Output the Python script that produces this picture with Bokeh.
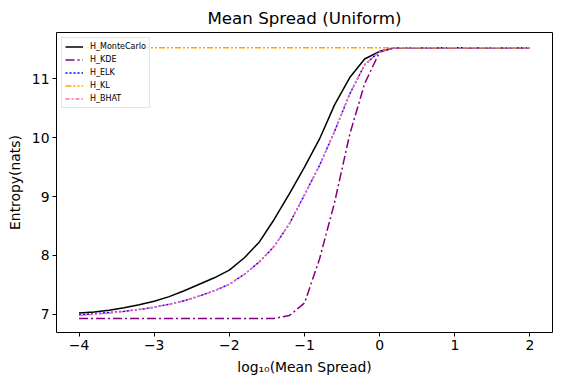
from bokeh.plotting import figure
from bokeh.models import FixedTicker, Range1d, Legend, LegendItem
from bokeh.embed import file_html
from bokeh.resources import INLINE

# log10(mean spread) grid
x = [-4.0, -3.8, -3.6, -3.4, -3.2, -3.0, -2.8, -2.6, -2.4, -2.2, -2.0,
     -1.8, -1.6, -1.4, -1.2, -1.0, -0.8, -0.6, -0.4, -0.2, 0.0,
     0.2, 0.4, 0.6, 0.8, 1.0, 1.2, 1.4, 1.6, 1.8, 2.0]

h_montecarlo = [7.02, 7.04, 7.07, 7.11, 7.16, 7.22, 7.30, 7.40, 7.51, 7.62, 7.75,
                7.96, 8.23, 8.62, 9.05, 9.50, 9.98, 10.56, 11.02, 11.34, 11.47,
                11.53, 11.53, 11.53, 11.53, 11.53, 11.53, 11.53, 11.53, 11.53, 11.53]

h_kde = [6.93, 6.93, 6.93, 6.93, 6.93, 6.93, 6.93, 6.93, 6.93, 6.93, 6.93,
         6.93, 6.93, 6.93, 6.98, 7.19, 7.94, 8.90, 10.05, 10.92, 11.46,
         11.53, 11.53, 11.53, 11.53, 11.53, 11.53, 11.53, 11.53, 11.53, 11.53]

h_elk = [6.99, 7.01, 7.03, 7.05, 7.08, 7.12, 7.17, 7.23, 7.31, 7.40, 7.51,
         7.68, 7.89, 8.16, 8.54, 9.03, 9.53, 10.11, 10.74, 11.24, 11.47,
         11.53, 11.53, 11.53, 11.53, 11.53, 11.53, 11.53, 11.53, 11.53, 11.53]

h_kl = [11.53] * 31

h_bhat = [6.98, 7.00, 7.02, 7.05, 7.08, 7.12, 7.17, 7.23, 7.31, 7.40, 7.51,
          7.68, 7.89, 8.16, 8.54, 9.03, 9.53, 10.11, 10.74, 11.24, 11.47,
          11.53, 11.53, 11.53, 11.53, 11.53, 11.53, 11.53, 11.53, 11.53, 11.53]

x_ticks = [-4, -3, -2, -1, 0, 1, 2]
y_ticks = [7, 8, 9, 10, 11]

FONT = "DejaVu Sans"

p = figure(frame_width=496, frame_height=300,
           min_border_left=56, min_border_right=2, min_border_top=21, min_border_bottom=49,
           x_range=Range1d(-4.3, 2.3), y_range=Range1d(6.69, 11.79),
           output_backend="svg", toolbar_location=None,
           title="Mean Spread (Uniform)")

p.title.text_font = FONT
p.title.text_font_size = "16.7px"
p.title.text_font_style = "normal"
p.title.text_color = "black"
p.title.align = "center"
p.title.offset = 0

p.grid.visible = False
p.outline_line_color = "black"
p.outline_line_width = 1
p.background_fill_color = "white"
p.border_fill_color = "white"

for ax in (p.xaxis[0], p.yaxis[0]):
    ax.major_label_text_font = FONT
    ax.major_label_text_font_size = "13.9px"
    ax.major_label_text_color = "black"
    ax.axis_label_text_font = FONT
    ax.axis_label_text_font_size = "13.9px"
    ax.axis_label_text_font_style = "normal"
    ax.axis_label_text_color = "black"
    ax.minor_tick_line_color = None
    ax.major_tick_out = 4
    ax.major_tick_in = 0
    ax.major_tick_line_color = "black"
    ax.axis_line_color = None

p.xaxis.ticker = FixedTicker(ticks=x_ticks)
p.yaxis.ticker = FixedTicker(ticks=y_ticks)
p.xaxis.major_label_overrides = {t: str(t).replace("-", "\u2212") for t in x_ticks}
p.xaxis.axis_label = "log\u2081\u2080(Mean Spread)"
p.yaxis.axis_label = "Entropy(nats)"
p.xaxis.axis_label_standoff = 6
p.yaxis.axis_label_standoff = 6
p.xaxis.major_label_standoff = 3
p.yaxis.major_label_standoff = 3

r_mc = p.line(x, h_montecarlo, line_color="black", line_width=1.5)
r_kde = p.line(x, h_kde, line_color="purple", line_width=1.5, line_dash="9 3 2 3")
r_elk = p.line(x, h_elk, line_color="blue", line_width=1.5, line_dash="2 2")
r_kl = p.line(x, h_kl, line_color="orange", line_width=1.5, line_dash="6 2 2 2 2 2")
r_bhat = p.line(x, h_bhat, line_color="#ff69b4", line_width=1.5, line_dash="4 2 2 2")

legend = Legend(items=[
    LegendItem(label="H_MonteCarlo", renderers=[r_mc]),
    LegendItem(label="H_KDE", renderers=[r_kde]),
    LegendItem(label="H_ELK", renderers=[r_elk]),
    LegendItem(label="H_KL", renderers=[r_kl]),
    LegendItem(label="H_BHAT", renderers=[r_bhat]),
], location="top_left")
legend.label_text_font = FONT
legend.label_text_font_size = "8px"
legend.label_text_color = "black"
legend.glyph_width = 18
legend.glyph_height = 11
legend.label_height = 11
legend.label_standoff = 7
legend.spacing = 2
legend.padding = 3
legend.margin = 5
legend.border_line_color = "#cccccc"
legend.border_line_width = 1
legend.background_fill_alpha = 0.8
p.add_layout(legend, "center")

open("out.html", "w").write(file_html(p, INLINE))
